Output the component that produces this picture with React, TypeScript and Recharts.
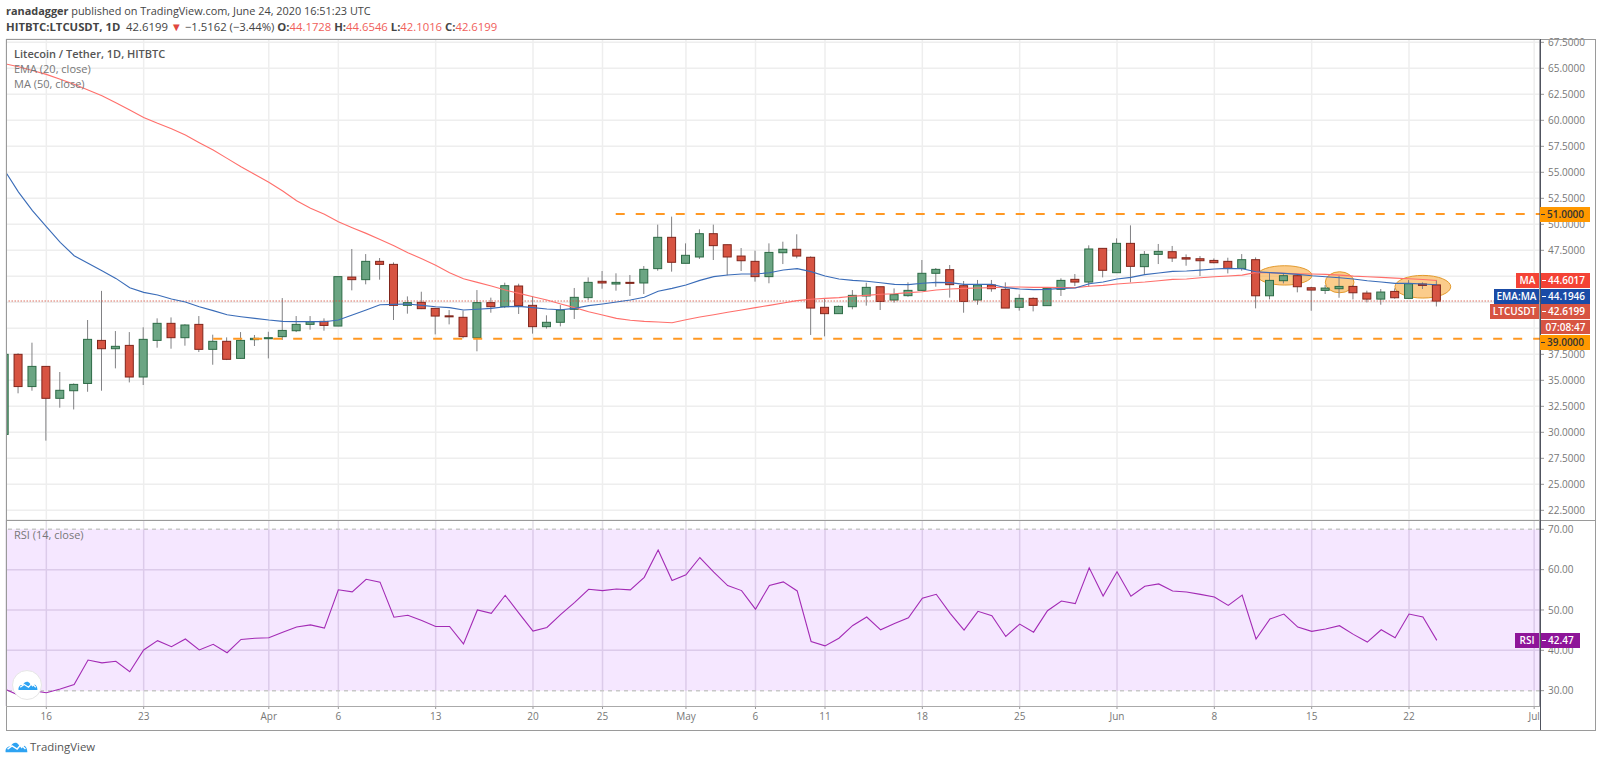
import { ComposedChart, Bar, Line, XAxis, YAxis, CartesianGrid, ReferenceLine, ReferenceArea } from "recharts";

const FONT = "'Open Sans', sans-serif";

// one entry per day, Mar 13 to Jun 24
const opens = [29.8, 37.5, 34.4, 36.34, 33.27, 34.0, 34.7, 38.84, 38.04, 38.36, 35.32, 38.84, 40.48, 39.1, 40.38, 37.98, 38.75, 37.11, 38.91, 39.0, 39.2, 39.77, 40.38, 40.67, 40.22, 44.93, 44.68, 46.44, 46.15, 42.21, 42.5, 41.92, 41.2, 41.06, 39.1, 42.47, 42.08, 44.07, 42.21, 40.16, 40.58, 41.83, 42.95, 44.52, 44.26, 44.42, 44.36, 45.74, 48.75, 46.25, 46.86, 49.1, 48.04, 46.95, 46.44, 44.97, 47.27, 47.6, 46.83, 42.02, 41.41, 42.08, 43.11, 44.0, 42.72, 43.14, 43.65, 45.29, 45.64, 44.1, 42.72, 44.17, 43.75, 42.02, 42.88, 42.18, 43.75, 44.71, 44.45, 47.69, 45.35, 48.17, 45.93, 47.11, 47.37, 46.79, 46.69, 46.53, 46.44, 45.76, 46.6, 43.13, 44.58, 45.06, 43.9, 43.65, 43.81, 44.03, 43.39, 42.81, 43.55, 42.88, 44.26, 44.1728];
const closes = [37.5, 34.4, 36.34, 33.27, 34.04, 34.61, 38.94, 38.04, 38.27, 35.32, 38.94, 40.48, 39.1, 40.32, 37.98, 38.75, 37.02, 38.84, 39.04, 39.1, 39.8, 40.38, 40.64, 40.28, 44.97, 44.68, 46.44, 46.15, 42.21, 42.47, 41.89, 41.18, 41.18, 39.2, 42.47, 42.08, 44.1, 42.18, 40.16, 40.58, 41.76, 42.98, 44.42, 44.36, 44.42, 44.36, 45.67, 48.75, 46.35, 47.02, 49.1, 47.95, 46.86, 46.5, 44.97, 47.3, 47.6, 46.95, 41.95, 41.41, 42.11, 43.17, 43.94, 42.59, 43.24, 43.65, 45.29, 45.67, 44.2, 42.59, 44.17, 43.81, 41.95, 42.88, 42.21, 43.84, 44.61, 44.45, 47.63, 45.58, 48.17, 45.96, 47.11, 47.4, 46.76, 46.66, 46.5, 46.31, 45.76, 46.6, 43.13, 44.61, 45.06, 44.0, 43.68, 43.87, 44.03, 43.42, 42.81, 43.49, 42.94, 44.29, 44.13, 42.6199];
const highs = [37.6, 37.6, 38.62, 36.34, 35.8, 34.7, 40.8, 43.6, 39.74, 39.64, 40.1, 40.96, 41.05, 40.4, 41.18, 39.39, 39.13, 39.64, 39.36, 39.67, 42.91, 41.18, 41.18, 40.96, 44.97, 47.63, 47.14, 46.76, 46.34, 43.07, 43.52, 41.92, 41.76, 41.7, 43.68, 42.95, 44.39, 44.29, 43.11, 41.25, 42.24, 43.88, 44.9, 45.51, 45.29, 45.13, 45.99, 49.97, 50.74, 48.17, 49.52, 49.97, 48.04, 47.72, 47.47, 48.17, 48.33, 49.04, 46.92, 42.88, 42.2, 43.68, 44.39, 44.0, 43.84, 44.42, 46.57, 45.8, 46.09, 44.55, 44.65, 44.65, 44.42, 43.27, 42.98, 43.94, 44.81, 45.22, 47.98, 47.69, 48.65, 49.9, 47.43, 48.11, 47.92, 47.11, 46.95, 46.72, 46.79, 47.14, 46.82, 45.38, 45.28, 45.19, 44.0, 44.16, 45.06, 44.16, 43.62, 43.78, 43.84, 44.64, 44.42, 44.6546];
const lows = [29.7, 33.75, 34.0, 29.2, 32.37, 32.2, 33.9, 34.0, 36.15, 34.8, 34.55, 38.14, 38.04, 38.33, 37.72, 36.5, 36.95, 37.08, 38.3, 37.11, 38.88, 39.64, 39.87, 39.77, 40.22, 43.65, 44.23, 44.68, 40.8, 41.41, 41.85, 39.42, 40.38, 39.04, 37.79, 41.5, 41.95, 41.38, 39.49, 39.97, 40.19, 40.9, 42.72, 43.81, 43.62, 43.11, 43.3, 45.54, 45.45, 46.25, 46.67, 46.57, 45.1, 45.51, 44.49, 44.33, 46.18, 46.73, 39.36, 39.23, 41.41, 41.83, 42.18, 41.76, 42.47, 43.04, 43.59, 44.0, 42.95, 41.5, 42.27, 43.52, 41.95, 41.7, 41.63, 42.18, 43.11, 44.07, 44.0, 44.9, 45.35, 44.42, 45.13, 46.18, 46.38, 46.02, 45.03, 46.25, 45.28, 45.54, 41.92, 42.78, 44.32, 43.46, 41.69, 43.3, 42.94, 42.78, 42.49, 42.27, 42.85, 42.88, 43.78, 42.1016];
const ema20 = [55.2, 53.1, 51.31, 49.77, 48.27, 46.98, 46.25, 45.54, 44.8, 43.9, 43.46, 43.2, 42.82, 42.53, 42.08, 41.7, 41.31, 41.12, 40.96, 40.8, 40.67, 40.64, 40.64, 40.64, 40.8, 41.28, 41.76, 42.27, 42.3, 42.34, 42.21, 42.08, 41.99, 41.76, 41.83, 41.92, 42.08, 42.11, 41.99, 41.86, 41.79, 41.92, 42.18, 42.34, 42.53, 42.72, 42.98, 43.56, 43.84, 44.17, 44.61, 44.97, 45.13, 45.22, 45.22, 45.35, 45.61, 45.74, 45.45, 45.03, 44.74, 44.61, 44.52, 44.39, 44.23, 44.2, 44.33, 44.42, 44.39, 44.23, 44.23, 44.23, 43.91, 43.78, 43.72, 43.75, 43.84, 43.88, 44.29, 44.45, 44.74, 44.9, 45.16, 45.32, 45.48, 45.51, 45.6, 45.7, 45.76, 45.73, 45.44, 45.36, 45.28, 45.19, 45.06, 44.96, 44.86, 44.74, 44.58, 44.45, 44.32, 44.32, 44.26, 44.1946];
const ma50 = [65.45, 65.16, 64.8, 64.42, 63.94, 63.46, 62.91, 62.37, 61.69, 60.99, 60.28, 59.71, 59.19, 58.59, 57.85, 57.14, 56.34, 55.54, 54.8, 54.05, 53.2, 52.27, 51.54, 50.96, 50.25, 49.68, 49.13, 48.55, 47.95, 47.27, 46.7, 46.06, 45.35, 44.77, 44.42, 44.07, 43.68, 43.36, 43.04, 42.72, 42.34, 41.99, 41.6, 41.28, 40.96, 40.77, 40.67, 40.61, 40.54, 40.83, 41.09, 41.31, 41.54, 41.76, 41.99, 42.21, 42.43, 42.66, 42.79, 42.88, 42.95, 43.08, 43.17, 43.27, 43.33, 43.43, 43.52, 43.68, 43.78, 43.84, 43.88, 43.91, 43.97, 43.97, 43.94, 43.94, 43.91, 43.91, 44.04, 44.13, 44.26, 44.36, 44.45, 44.58, 44.71, 44.74, 44.86, 44.96, 45.03, 45.12, 45.38, 45.35, 45.3, 45.25, 45.22, 45.19, 45.12, 45.02, 44.96, 44.9, 44.83, 44.77, 44.7, 44.6017];
const rsi14 = [30.4, 28.9, 30.0, 29.5, 30.4, 31.5, 37.6, 36.9, 37.3, 34.7, 40.1, 42.4, 40.9, 42.8, 40.1, 41.5, 39.4, 42.7, 43.0, 43.1, 44.5, 45.8, 46.3, 45.5, 55.0, 54.5, 57.6, 56.9, 48.2, 48.7, 47.4, 45.9, 45.9, 41.6, 50.0, 49.15, 53.64, 49.16, 44.76, 45.67, 48.9, 51.9, 55.13, 54.8, 55.2, 54.97, 58.1, 64.84, 57.3, 58.7, 63.0, 59.37, 56.05, 54.8, 50.2, 56.1, 56.96, 54.72, 42.19, 41.1, 43.0, 46.17, 48.25, 45.09, 46.67, 48.08, 52.9, 53.89, 49.16, 45.0, 49.66, 48.58, 43.43, 46.5, 44.5, 49.82, 52.23, 51.57, 60.44, 53.47, 59.45, 53.39, 55.88, 56.46, 54.72, 54.47, 53.87, 53.2, 51.14, 53.7, 42.8, 47.76, 48.99, 45.77, 44.7, 45.28, 46.1, 43.95, 42.05, 45.1, 43.13, 49.0, 48.25, 42.47];

const priceTicks = [22.5, 25, 27.5, 30, 32.5, 35, 37.5, 40, 42.5, 45, 47.5, 50, 52.5, 55, 57.5, 60, 62.5, 65, 67.5];
// these two sit fully under the price tags in the reference
const hiddenPriceLabels = [42.5, 45];
const rsiTicks = [30, 40, 50, 60, 70];
const timeTicks = [3, 10, 19, 24, 31, 38, 43, 49, 54, 59, 66, 73, 80, 87, 94, 101, 110];
const timeLabels = ["16", "23", "Apr", "6", "13", "20", "25", "May", "6", "11", "18", "25", "Jun", "8", "15", "22", "Jul"];

// day range and value ranges shown by the two panes
const dayDomain: [number, number] = [0.1, 110.42];
const priceDomain: [number, number] = [21.57, 67.82];
const rsiDomain: [number, number] = [26.2, 72.3];

// [day from, day to, price low, price high]
const ovals = [
  [90.09, 94.02, 44.16, 46.02],
  [94.98, 97.04, 43.42, 45.44],
  [99.99, 104, 42.91, 45.09],
];

const candles = opens.map((open, i) => ({
  day: i,
  open,
  close: closes[i],
  high: highs[i],
  low: lows[i],
  range: [lows[i], highs[i]],
  ema: ema20[i],
  ma: ma50[i],
}));
const rsiData = rsi14.map((rsi, i) => ({ day: i, rsi }));

const GREEN = "#6ba583";
const RED = "#d75442";

const Candle = (props: any) => {
  const { x, y, width, height, payload } = props;
  const { open, close, high, low } = payload;
  const k = height / (high - low);
  const cx = x + width / 2;
  const up = close >= open;
  const top = y + (high - Math.max(open, close)) * k;
  const h = Math.max(Math.abs(close - open) * k, 1);
  return (
    <g>
      <line x1={cx} x2={cx} y1={y} y2={y + height} stroke="#808083" strokeWidth={1} />
      <rect x={cx - 4} y={top} width={8} height={h} fill={up ? GREEN : RED} stroke={up ? "#2c6a45" : "#80251b"} strokeWidth={1} />
    </g>
  );
};

const Oval = (props: any) => {
  const { x, y, width, height } = props;
  return (
    <ellipse
      cx={x + width / 2}
      cy={y + height / 2}
      rx={width / 2}
      ry={height / 2}
      fill="#f9aa3e"
      fillOpacity={0.6}
      stroke="#e39a2c"
      strokeWidth={1}
    />
  );
};

// value tags start with a short tick, name tags are just centred text
const Tag = ({ top, left, right, height = 15, bg, color = "#fff", tick, children }: any) => (
  <div
    style={{
      position: "absolute",
      top,
      left,
      width: right - left - (tick ? 7 : 0),
      paddingLeft: tick ? 7 : 0,
      height,
      lineHeight: `${height}px`,
      background: bg,
      color,
      fontSize: 10,
      fontWeight: 600,
      textAlign: tick ? "left" : "center",
      whiteSpace: "nowrap",
    }}
  >
    {tick && <div style={{ position: "absolute", left: 1, top: 7, width: 4, height: 1, background: color }} />}
    {children}
  </div>
);

const Cloud = ({ left, top, w, h }: any) => (
  <svg style={{ position: "absolute", left, top }} width={w} height={h} viewBox="0 0 36 20">
    <path
      d="M1 19 C0 13 4 9 9 10 C11 4 18 2 21 7 L26 13 L30 9 C33 10 35 14 35 19 Z"
      fill="#2ea3f2"
    />
    <path d="M4 14 L11 9 L19 14 L25 7 L32 14" fill="none" stroke="#fff" strokeWidth={2.2} />
  </svg>
);

export default function App() {
  const label = { position: "absolute" as const, left: 14, fontSize: 11, color: "#777", whiteSpace: "nowrap" as const, lineHeight: "15px" };
  const red = { color: "#f0605a" };
  return (
    <div style={{ position: "absolute", left: 0, top: 0, width: 1600, height: 763, background: "#fff", fontFamily: FONT, overflow: "hidden" }}>
      <div style={{ position: "absolute", left: 6, top: 3, fontSize: 10.9, color: "#444", lineHeight: "16px", whiteSpace: "nowrap" }}>
        <b>ranadagger</b> published on TradingView.com, June 24, 2020 16:51:23 UTC
      </div>
      <div style={{ position: "absolute", left: 6, top: 19, fontSize: 11.3, color: "#444", lineHeight: "16px", whiteSpace: "nowrap" }}>
        <b>HITBTC:LTCUSDT, 1D</b>&nbsp; 42.6199 <span style={{ color: "#e0483e" }}>▼</span> −1.5162 (−3.44%) <b>O:</b><span style={red}>44.1728</span> <b>H:</b><span style={red}>44.6546</span> <b>L:</b><span style={red}>42.1016</span> <b>C:</b><span style={red}>42.6199</span>
      </div>

      <div style={{ position: "absolute", left: 0, top: 0 }}>
        <ComposedChart width={1595} height={520} data={candles} margin={{ top: 39, left: 6, right: 0, bottom: 0 }} style={{ fontFamily: FONT }}>
          <CartesianGrid stroke="#eeeeee" strokeWidth={1.5} />
          <XAxis dataKey="day" type="number" hide domain={dayDomain} ticks={timeTicks} allowDataOverflow />
          <YAxis
            orientation="right"
            width={55}
            domain={priceDomain}
            ticks={priceTicks}
            allowDataOverflow
            interval={0}
            tickFormatter={(v: number) => (hiddenPriceLabels.includes(v) ? "" : v.toFixed(4))}
            tick={{ fill: "#777", fontSize: 10 }}
            tickSize={4}
            tickMargin={4}
            axisLine={{ stroke: "#50535e" }}
            tickLine={{ stroke: "#999" }}
          />
          <ReferenceLine y={42.6199} stroke={RED} strokeOpacity={0.55} strokeWidth={1.5} strokeDasharray="1.5 1.5" />
          <Line dataKey="ma" stroke="#ff6f6b" strokeWidth={1.1} dot={false} isAnimationActive={false} />
          <Line dataKey="ema" stroke="#3a6cb8" strokeWidth={1.1} dot={false} isAnimationActive={false} />
          <ReferenceLine segment={[{ x: 43.95, y: 51 }, { x: 110.42, y: 51 }]} stroke="#ff9823" strokeWidth={2} strokeDasharray="9 11" />
          <ReferenceLine segment={[{ x: 15, y: 39 }, { x: 110.42, y: 39 }]} stroke="#ff9823" strokeWidth={2} strokeDasharray="9 11" />
          <Bar dataKey="range" barSize={9} shape={Candle} isAnimationActive={false} />
          {ovals.map((o, i) => (
            <ReferenceArea key={i} x1={o[0]} x2={o[1]} y1={o[2]} y2={o[3]} shape={Oval} ifOverflow="visible" />
          ))}
        </ComposedChart>
      </div>

      <div style={{ position: "absolute", left: 0, top: 520 }}>
        <ComposedChart width={1595} height={210} data={rsiData} margin={{ top: 0, left: 6, right: 0, bottom: 0 }} style={{ fontFamily: FONT }}>
          <CartesianGrid stroke="#e4e0e8" strokeWidth={1.5} horizontalValues={[40, 50, 60]} />
          <XAxis
            dataKey="day"
            type="number"
            height={24}
            domain={dayDomain}
            ticks={timeTicks}
            allowDataOverflow
            interval={0}
            tickFormatter={(v: number) => timeLabels[timeTicks.indexOf(v)]}
            tick={{ fill: "#777", fontSize: 10 }}
            tickSize={3}
            tickMargin={4}
            axisLine={false}
            tickLine={{ stroke: "#999" }}
          />
          <YAxis
            orientation="right"
            width={55}
            domain={rsiDomain}
            ticks={rsiTicks}
            allowDataOverflow
            interval={0}
            tickFormatter={(v: number) => v.toFixed(2)}
            tick={{ fill: "#777", fontSize: 10 }}
            tickSize={4}
            tickMargin={4}
            axisLine={{ stroke: "#50535e" }}
            tickLine={{ stroke: "#999" }}
          />
          <ReferenceArea y1={30} y2={70} fill="#9915ff" fillOpacity={0.1} stroke="none" />
          <ReferenceLine y={70} stroke="#c8c8c8" strokeWidth={1.5} strokeDasharray="4 4" />
          <ReferenceLine y={30} stroke="#c8c8c8" strokeWidth={1.5} strokeDasharray="4 4" />
          <Line dataKey="rsi" stroke="#a32bb5" strokeWidth={1.1} dot={false} isAnimationActive={false} />
        </ComposedChart>
      </div>

      {/* pane frame */}
      <div style={{ position: "absolute", left: 6, top: 39, width: 1588, height: 690, border: "1px solid #9a9a9a" }} />
      <div style={{ position: "absolute", left: 6, top: 520, width: 1589, height: 1, background: "#9a9a9a" }} />
      <div style={{ position: "absolute", left: 6, top: 706, width: 1534, height: 1, background: "#aaa" }} />
      <div style={{ position: "absolute", left: 1541, top: 707, width: 8, height: 22, background: "#fff" }} />
      <div style={{ position: "absolute", left: 1540, top: 39, width: 1, height: 691, background: "#50535e" }} />

      <div style={{ ...label, top: 46, color: "#555", fontWeight: 600 }}>Litecoin / Tether, 1D, HITBTC</div>
      <div style={{ ...label, top: 61 }}>EMA (20, close)</div>
      <div style={{ ...label, top: 76 }}>MA (50, close)</div>
      <div style={{ ...label, top: 527 }}>RSI (14, close)</div>

      <Tag top={207} left={1540} right={1590} bg="#ff9800" color="#333" tick>51.0000</Tag>
      <Tag top={273} left={1516} right={1539} bg="#f44336">MA</Tag>
      <Tag top={273} left={1541} right={1590} bg="#f44336" tick>44.6017</Tag>
      <Tag top={289} left={1494} right={1539} bg="#1a4ba6">EMA:MA</Tag>
      <Tag top={289} left={1541} right={1590} bg="#1a4ba6" tick>44.1946</Tag>
      <Tag top={304} left={1490} right={1539} bg={RED}>LTCUSDT</Tag>
      <Tag top={304} left={1541} right={1590} bg={RED} tick>42.6199</Tag>
      <Tag top={320} left={1541} right={1590} bg={RED} height={14}>07:08:47</Tag>
      <Tag top={335} left={1540} right={1590} bg="#ff9800" color="#333" tick>39.0000</Tag>
      <Tag top={633} left={1515} right={1539} bg="#8e1599">RSI</Tag>
      <Tag top={633} left={1541} right={1580} bg="#8e1599" tick>42.47</Tag>

      <div style={{ position: "absolute", left: 12, top: 670, width: 28, height: 28, borderRadius: "50%", background: "#fff", border: "1px solid #e6e6e6" }} />
      <Cloud left={18} top={679} w={20} h={12} />
      <Cloud left={5} top={740} w={23} h={13} />
      <div style={{ position: "absolute", left: 30, top: 738, fontSize: 11.4, color: "#555", lineHeight: "17px" }}>TradingView</div>
    </div>
  );
}
